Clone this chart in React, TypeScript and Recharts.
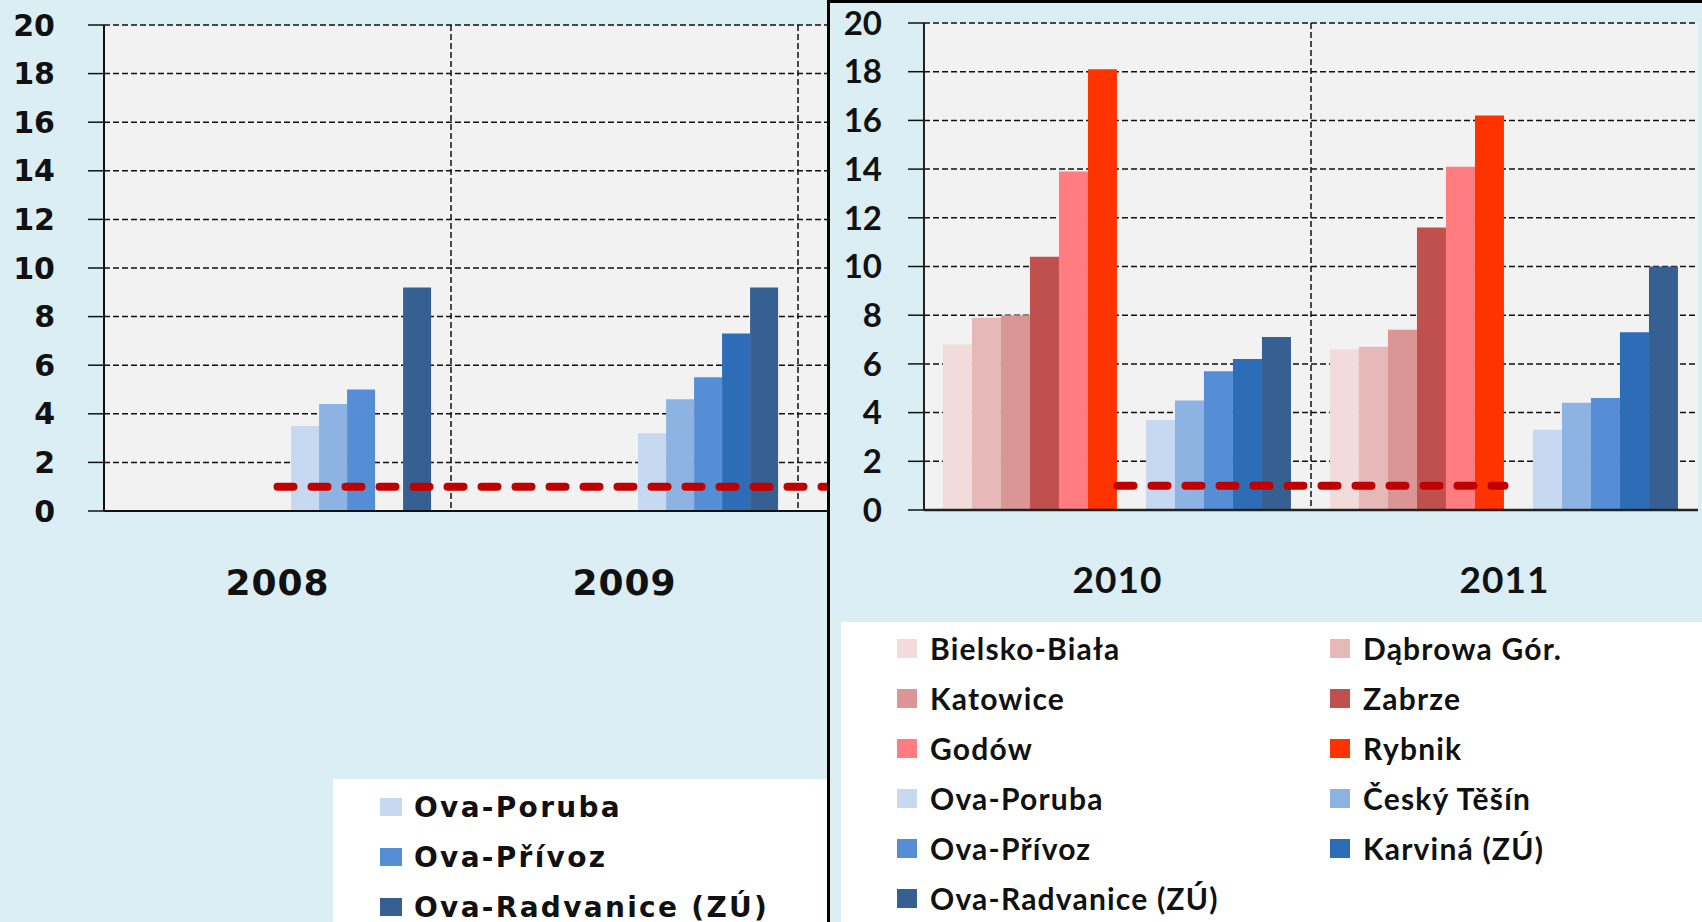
import React from "react";
import {
  ComposedChart,
  Bar,
  Line,
  XAxis,
  YAxis,
  CartesianGrid,
  Legend,
} from "recharts";

// years on the category axis
const czYears = ["2008", "2009", "2010"];
const plYears = ["2010", "2011"];

// Polish stations (only measured 2010-2011)
const bielskoBiala = [6.8, 6.6];
const dabrowaGor = [7.9, 6.7];
const katowice = [8.0, 7.4];
const zabrze = [10.4, 11.6];
const godow = [13.9, 14.1];
const rybnik = [18.1, 16.2];

// Czech stations, 2008-2011
const czAllYears = ["2008", "2009", "2010", "2011"];
const ovaPoruba = [3.5, 3.2, 3.7, 3.3];
const ceskyTesin = [4.4, 4.6, 4.5, 4.4];
const ovaPrivoz = [5.0, 5.5, 5.7, 4.6];
const karvina = [null, 7.3, 6.2, 7.3];
const ovaRadvanice = [9.2, 9.2, 7.1, 10.0];

// limit value drawn as the red dashed line
const limitValue = 1;

const yTicks = [0, 2, 4, 6, 8, 10, 12, 14, 16, 18, 20];

const plNames = ["Bielsko-Biała", "Dąbrowa Gór.", "Katowice", "Zabrze", "Godów", "Rybnik"];
const plColors = ["#f2dcdb", "#e6b9b8", "#d99694", "#c0504d", "#ff7c80", "#ff3300"];
const plValues = [bielskoBiala, dabrowaGor, katowice, zabrze, godow, rybnik];

const czNames = ["Ova-Poruba", "Český Těšín", "Ova-Přívoz", "Karviná (ZÚ)", "Ova-Radvanice (ZÚ)"];
const czColors = ["#c6d9f1", "#8db3e2", "#558ed5", "#2d6cb6", "#376092"];
const czValues = [ovaPoruba, ceskyTesin, ovaPrivoz, karvina, ovaRadvanice];

const BG = "#dbeef4";
const PLOT_BG = "#f2f2f2";
const LEFT_FONT = "'DejaVu Sans', Verdana, sans-serif";
const RIGHT_FONT = "Lato, 'Open Sans', sans-serif";

const leftData = czYears.map((year) => {
  const row: any = { year, limit: limitValue };
  czNames.forEach((_, s) => (row["cz" + s] = czValues[s][czAllYears.indexOf(year)]));
  return row;
});

const rightData = plYears.map((year, i) => {
  const row: any = { year, limit: limitValue };
  plNames.forEach((_, s) => (row["pl" + s] = plValues[s][i]));
  czNames.forEach((_, s) => (row["cz" + s] = czValues[s][czAllYears.indexOf(year)]));
  return row;
});

// dashed separators between categories, from the plot offset
const boundaries = (n: number) => (props: any) => {
  const o = props.offset;
  const out: number[] = [];
  for (let i = 1; i < n; i++) out.push(o.left + (o.width * i) / n);
  return out;
};

function LegendBox({ items, cols, colX, rowTop, font, fontSize, letterSpacing, marker }: any) {
  return (
    <div style={{ position: "relative", width: "100%", height: "100%", background: "#fff" }}>
      {items.map((it: any, i: number) => {
        const col = i % cols;
        const row = Math.floor(i / cols);
        return (
          <div
            key={it.name}
            style={{
              position: "absolute",
              left: colX[col],
              top: rowTop + row * 50 - 20,
              height: 40,
              display: "flex",
              alignItems: "center",
              whiteSpace: "nowrap",
              fontFamily: font,
              fontWeight: 700,
              fontSize,
              letterSpacing,
              color: "#111",
            }}
          >
            <span
              style={{
                display: "inline-block",
                width: marker[0],
                height: marker[1],
                background: it.color,
                marginRight: marker[2],
              }}
            />
            {it.name}
          </div>
        );
      })}
    </div>
  );
}

const lineProps = {
  dataKey: "limit",
  stroke: "#c00000",
  strokeWidth: 8,
  strokeDasharray: "16 18",
  strokeLinecap: "round" as const,
  dot: false,
  activeDot: false,
  legendType: "none" as const,
  isAnimationActive: false,
};

function LeftChart() {
  // the visible column of this legend (the rest sits under the right panel)
  const items = [0, 2, 4].map((i) => ({ name: czNames[i], color: czColors[i] }));
  return (
    <ComposedChart
      width={1702}
      height={922}
      data={leftData}
      margin={{ top: 25, right: 557, bottom: 311, left: 0 }}
      barCategoryGap="5.5%"
      barGap={0}
    >
      <CartesianGrid
        fill={PLOT_BG}
        fillOpacity={1}
        stroke="#111"
        strokeWidth={1.5}
        strokeDasharray="6 3"
        verticalCoordinatesGenerator={boundaries(czYears.length)}
      />
      <XAxis
        dataKey="year"
        interval={0}
        height={100}
        tickLine={false}
        tickSize={0}
        tickMargin={58}
        axisLine={{ stroke: "#111", strokeWidth: 2 }}
        tick={{ fontFamily: LEFT_FONT, fontWeight: 700, fontSize: 36, fill: "#111", letterSpacing: 1 }}
      />
      <XAxis xAxisId="top" dataKey="year" orientation="top" height={0} tick={false} tickLine={false} axisLine={{ stroke: "#111", strokeWidth: 2 }} />
      <YAxis
        domain={[0, 20]}
        ticks={yTicks}
        width={104}
        tickSize={16}
        tickMargin={33}
        axisLine={{ stroke: "#111", strokeWidth: 2 }}
        tickLine={{ stroke: "#111", strokeWidth: 1.5 }}
        tick={{ fontFamily: LEFT_FONT, fontWeight: 700, fontSize: 30, fill: "#111" }}
      />
      {plNames.map((name, i) => (
        <Bar key={name} dataKey={"pl" + i} name={name} fill={plColors[i]} isAnimationActive={false} />
      ))}
      {czNames.map((name, i) => (
        <Bar key={name} dataKey={"cz" + i} name={name} fill={czColors[i]} isAnimationActive={false} />
      ))}
      <Line {...lineProps} />
      <Legend
        layout="horizontal"
        verticalAlign="middle"
        align="center"
        wrapperStyle={{ left: 333, top: 779, width: 494, height: 143, margin: 0, overflow: "hidden" }}
        content={() => (
          <LegendBox
            items={items}
            cols={1}
            colX={[47]}
            rowTop={28}
            font={LEFT_FONT}
            fontSize={28}
            letterSpacing={2.3}
            marker={[22, 18, 12]}
          />
        )}
      />
    </ComposedChart>
  );
}

function RightChart() {
  const items = [
    ...plNames.map((name, i) => ({ name, color: plColors[i] })),
    ...czNames.map((name, i) => ({ name, color: czColors[i] })),
  ];
  return (
    <ComposedChart
      width={872}
      height={919}
      data={rightData}
      margin={{ top: 20, right: 4, bottom: 312, left: 0 }}
      barCategoryGap="4.9%"
      barGap={0}
    >
      <CartesianGrid
        fill={PLOT_BG}
        fillOpacity={1}
        stroke="#111"
        strokeWidth={1.5}
        strokeDasharray="6 3"
        verticalCoordinatesGenerator={boundaries(plYears.length)}
      />
      <XAxis
        dataKey="year"
        interval={0}
        height={100}
        tickLine={false}
        tickSize={0}
        tickMargin={57}
        axisLine={{ stroke: "#222", strokeWidth: 2.5 }}
        tick={{ fontFamily: RIGHT_FONT, fontWeight: 700, fontSize: 37, fill: "#111", letterSpacing: 1 }}
      />
      <XAxis xAxisId="top" dataKey="year" orientation="top" height={0} tick={false} tickLine={false} axisLine={{ stroke: "#222", strokeWidth: 2 }} />
      <YAxis
        domain={[0, 20]}
        ticks={yTicks}
        width={94}
        tickSize={16}
        tickMargin={26}
        axisLine={{ stroke: "#222", strokeWidth: 2 }}
        tickLine={{ stroke: "#111", strokeWidth: 1.5 }}
        tick={{ fontFamily: RIGHT_FONT, fontWeight: 700, fontSize: 33, fill: "#111" }}
      />
      <YAxis yAxisId="right" orientation="right" domain={[0, 20]} width={0} tick={false} tickLine={false} axisLine={{ stroke: "#222", strokeWidth: 2.5 }} />
      {plNames.map((name, i) => (
        <Bar key={name} dataKey={"pl" + i} name={name} fill={plColors[i]} isAnimationActive={false} />
      ))}
      <Bar dataKey="gap" fill="none" legendType="none" isAnimationActive={false} />
      {czNames.map((name, i) => (
        <Bar key={name} dataKey={"cz" + i} name={name} fill={czColors[i]} isAnimationActive={false} />
      ))}
      <Line {...lineProps} />
      <Legend
        layout="horizontal"
        verticalAlign="middle"
        align="center"
        wrapperStyle={{ left: 11, top: 619, width: 861, height: 300, margin: 0 }}
        content={() => (
          <LegendBox
            items={items}
            cols={2}
            colX={[56, 489]}
            rowTop={26}
            font={RIGHT_FONT}
            fontSize={30}
            letterSpacing={1.2}
            marker={[20, 19, 13]}
          />
        )}
      />
    </ComposedChart>
  );
}

export default function App() {
  return (
    <div
      style={{
        position: "absolute",
        left: 0,
        top: 0,
        width: 1702,
        height: 922,
        overflow: "hidden",
        background: BG,
      }}
    >
      <div style={{ position: "absolute", left: 0, top: 0 }}>
        <LeftChart />
      </div>
      <div
        style={{
          position: "absolute",
          left: 827,
          top: 0,
          width: 875,
          height: 922,
          boxSizing: "border-box",
          borderLeft: "3px solid #000",
          borderTop: "3px solid #000",
          background: BG,
          zIndex: 2,
        }}
      >
        <RightChart />
      </div>
    </div>
  );
}
